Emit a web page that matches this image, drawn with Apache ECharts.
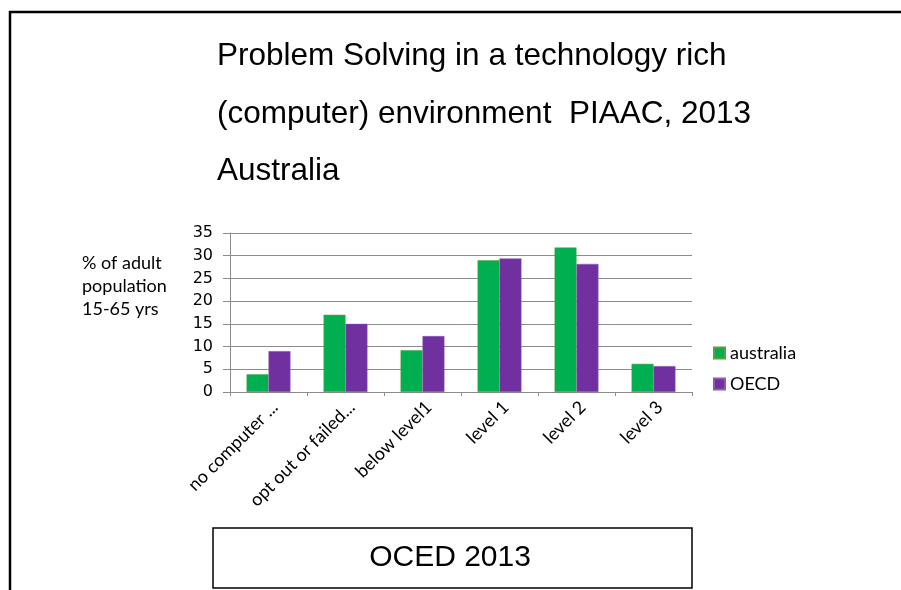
<!DOCTYPE html>
<html>
<head>
<meta charset="utf-8">
<script src="https://cdn.jsdelivr.net/npm/echarts@6/dist/echarts.min.js"></script>
<style>
html,body{margin:0;padding:0;background:#fff;}
#chart{width:901px;height:590px;}
</style>
</head>
<body>
<div id="chart"></div>
<script>
var categories = ['no computer ...', 'opt out or failed...', 'below level1', 'level 1', 'level 2', 'level 3'];
var australia = [3.9, 17.0, 9.2, 29.0, 31.8, 6.2];
var oecd = [9.0, 15.0, 12.3, 29.4, 28.2, 5.7];
var yTicks = [0, 5, 10, 15, 20, 25, 30, 35];
var titleLines = ['Problem Solving in a technology rich', '(computer) environment  PIAAC, 2013', 'Australia'];
var yAxisName = ['% of adult', 'population', '15-65 yrs'];
var footerText = 'OCED 2013';

var chart = echarts.init(document.getElementById('chart'), null, {renderer: 'canvas'});
var gridColor = '#8c8c8c';
var titleFont = '31.5px "Liberation Sans"';
var option = {
  animation: false,
  backgroundColor: '#ffffff',
  grid: {left: 230, top: 233, width: 462, height: 159, containLabel: false},
  legend: {
    orient: 'vertical', left: 713, top: 344, padding: 0, itemWidth: 11, itemHeight: 11, itemGap: 13,
    icon: 'rect',
    textStyle: {fontFamily: 'Lato', fontSize: 18, color: '#000'},
    data: ['australia', 'OECD']
  },
  xAxis: {
    type: 'category', data: categories,
    axisLine: {lineStyle: {color: gridColor, width: 1}},
    axisTick: {show: true, alignWithLabel: false, length: 4, lineStyle: {color: gridColor}},
    axisLabel: {rotate: 45, interval: 0, fontFamily: 'Lato', fontSize: 18, color: '#000', margin: 6, verticalAlign: 'top'}
  },
  yAxis: {
    type: 'value', min: yTicks[0], max: yTicks[yTicks.length - 1], interval: yTicks[1] - yTicks[0],
    axisLine: {show: true, lineStyle: {color: gridColor, width: 1}},
    axisTick: {show: true, length: 7, lineStyle: {color: gridColor}},
    splitLine: {lineStyle: {color: gridColor, width: 1}},
    axisLabel: {fontFamily: 'DejaVu Sans', fontSize: 16, color: '#000', margin: 17}
  },
  series: [
    {name: 'australia', type: 'bar', data: australia, barGap: '0%', barCategoryGap: '43%',
     itemStyle: {color: '#00B050', borderColor: '#5aa03c', borderWidth: 0.5}},
    {name: 'OECD', type: 'bar', data: oecd, barGap: '0%', barCategoryGap: '43%',
     itemStyle: {color: '#7030A0', borderColor: '#8a5cb0', borderWidth: 0.5}}
  ],
  graphic: [
    {type: 'line', shape: {x1: 9, y1: 12, x2: 901, y2: 12}, style: {stroke: '#000', lineWidth: 2.5}},
    {type: 'line', shape: {x1: 10, y1: 11, x2: 10, y2: 590}, style: {stroke: '#000', lineWidth: 2.5}},
    {type: 'text', x: 217, y: 56, style: {text: titleLines[0], font: titleFont, fill: '#000', textVerticalAlign: 'middle'}},
    {type: 'text', x: 217, y: 114, style: {text: titleLines[1], font: titleFont, fill: '#000', textVerticalAlign: 'middle'}},
    {type: 'text', x: 217, y: 171, style: {text: titleLines[2], font: titleFont, fill: '#000', textVerticalAlign: 'middle'}},
    {type: 'text', left: 82, top: 252, style: {text: yAxisName.join('\n'), font: '18px Lato', fill: '#000', lineHeight: 23}},
    {type: 'rect', shape: {x: 213, y: 528, width: 479, height: 60}, style: {fill: '#fff', stroke: '#000', lineWidth: 1.5}},
    {type: 'text', x: 450, y: 558, style: {text: footerText, font: '30px "Liberation Sans"', fill: '#000', textAlign: 'center', textVerticalAlign: 'middle'}}
  ]
};
chart.setOption(option);
</script>
</body>
</html>
